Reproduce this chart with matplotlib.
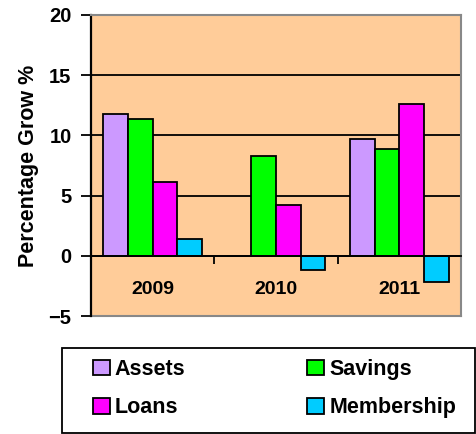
import matplotlib.pyplot as plt
from matplotlib.patches import Rectangle
import numpy as np

years = ['2009', '2010', '2011']
series = ['Assets', 'Savings', 'Loans', 'Membership']
assets = [11.8, 0.0, 9.7]
savings = [11.4, 8.3, 8.9]
loans = [6.1, 4.2, 12.6]
membership = [1.4, -1.2, -2.2]
colors = ['#CC99FF', '#00FF00', '#FF00FF', '#00CCFF']

plt.rcParams['font.family'] = ['Liberation Sans', 'DejaVu Sans']
plt.rcParams['font.weight'] = 'bold'

W, H = 476, 434
fig = plt.figure(figsize=(W / 100, H / 100), dpi=100)
ax = fig.add_axes([91 / W, 1 - 316 / H, 370 / W, 301 / H])
ax.set_facecolor('#FFCC99')

x = np.arange(len(years))
width = 0.2
bars = []
for i, (vals, name) in enumerate(zip([assets, savings, loans, membership], series)):
    b = ax.bar(x + (i - 1.5) * width, vals, width, color=colors[i], edgecolor='black',
               linewidth=1.3, label=name, zorder=3)
    bars.append(b)

ax.set_xlim(-0.5, 2.5)
ax.set_ylim(-5, 20)
ax.set_yticks([-5, 0, 5, 10, 15, 20])
ax.yaxis.grid(True, color='black', linewidth=1.3, zorder=0)
ax.set_axisbelow(True)

# x axis sits on zero, ticks mark the category boundaries
ax.spines['bottom'].set_position(('data', 0))
ax.spines['bottom'].set_linewidth(1.3)
ax.spines['bottom'].set_zorder(4)
ax.spines['left'].set_linewidth(1.6)
for s in ['top', 'right']:
    ax.spines[s].set_color('#888888')
    ax.spines[s].set_linewidth(1.5)
ax.set_xticks(x)
ax.set_xticklabels(years, fontsize=14, fontweight='bold')
ax.set_xticks([0.5, 1.5, 2.5], minor=True)
ax.tick_params(axis='x', which='major', length=0, pad=18)
ax.tick_params(axis='x', which='minor', length=6, width=1.3, direction='out')
ax.tick_params(axis='y', length=7, width=1.3, labelsize=14.5, pad=7)
for t in ax.get_yticklabels():
    t.set_fontweight('bold')

# bottom border of the plot area at -5
ax.axhline(-5, color='#888888', linewidth=1.5, clip_on=False)

ax.set_ylabel('Percentage Grow %', fontsize=15.5, fontweight='bold', labelpad=7)

# legend: rows Assets/Savings and Loans/Membership inside a plain box
order = [0, 2, 1, 3]
leg = fig.legend([bars[i] for i in order], [series[i] for i in order],
                 loc='upper left', bbox_to_anchor=(93 / W, 1 - 359 / H), ncol=2,
                 frameon=False, borderpad=0, borderaxespad=0,
                 prop={'size': 15.5, 'weight': 'bold'},
                 handlelength=0.79, handleheight=0.74, handletextpad=0.23,
                 labelspacing=0.8, columnspacing=5.65)
fig.add_artist(Rectangle((62 / W, 1 - 433 / H), 413 / W, 85 / H,
                         transform=fig.transFigure, fill=False,
                         edgecolor='black', linewidth=1.3))

fig.savefig('out.png', dpi=100)
